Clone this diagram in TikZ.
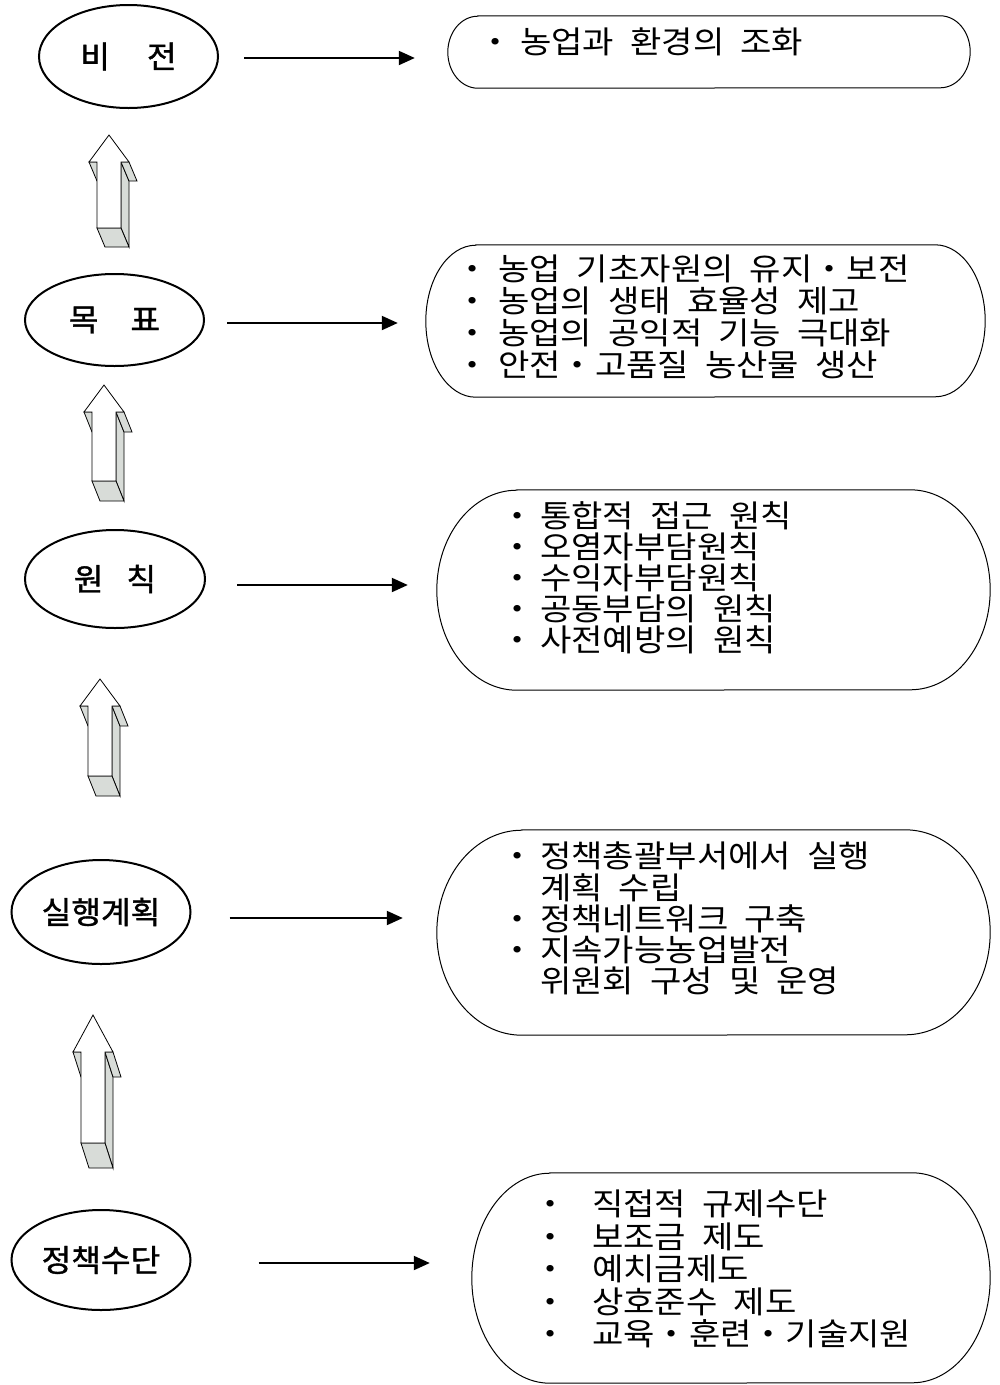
\documentclass[tikz,border=0pt]{standalone}
\usepackage{fontspec}
\newfontfamily\kr{Noto Sans CJK KR}[FakeStretch=1.1]
\newfontfamily\krl{Noto Sans CJK KR}[FakeStretch=1.04,FakeBold=1.2]
\usetikzlibrary{shapes.geometric,arrows.meta,calc}
\definecolor{shadegray}{RGB}{216,220,216}
\newcommand\bul[1]{\makebox[#1][l]{・}}
% cx, tip y, head base y, bottom y, depth dy
\newcommand\threedarrow[5]{%
  \draw[arrline,fill=shadegray] ({#1+12},#3) -- ({#1+20},{#3+#5}) -- ({#1+20},{#4+#5}) -- ({#1+12},#4) -- cycle;
  \draw[arrline,fill=shadegray] ({#1-20},#3) -- ({#1-12},#3) -- ({#1-4},{#3+#5}) -- ({#1-12},{#3+#5}) -- cycle;
  \draw[arrline,fill=shadegray] ({#1+12},#3) -- ({#1+20},#3) -- ({#1+28},{#3+#5}) -- ({#1+20},{#3+#5}) -- cycle;
  \draw[arrline,fill=shadegray] ({#1-12},#4) -- ({#1+12},#4) -- ({#1+20},{#4+#5}) -- ({#1-4},{#4+#5}) -- cycle;
  \draw[arrline,fill=white] (#1,#2) -- ({#1+20},#3) -- ({#1+12},#3) -- ({#1+12},#4) -- ({#1-12},#4) -- ({#1-12},#3) -- ({#1-20},#3) -- cycle;
}
% node name, x radius, y radius (pt)
\newcommand\pillbox[3]{%
  \draw[boxline] ([xshift=#2pt]#1.north west) -- ([xshift=-#2pt]#1.north east)
    arc[start angle=90,end angle=-90,x radius=#2pt,y radius=#3pt]
    -- ([xshift=#2pt]#1.south west)
    arc[start angle=270,end angle=90,x radius=#2pt,y radius=#3pt] -- cycle;
}
\begin{document}
\begin{tikzpicture}[x=1pt,y=-1pt,
  oval/.style={ellipse,draw,line width=2pt,inner sep=0pt,font=\krl\fontsize{31}{32}\selectfont},
  conn/.style={line width=2pt,-{Triangle[length=16pt,width=14pt]}},
  boxline/.style={line width=1pt},
  arrline/.style={line width=0.8pt,line join=miter},
  pill/.style={inner sep=0pt,draw=none},
  btext/.style={anchor=north west,inner sep=0pt,align=left,font={\kr\fontsize{31}{#1}\selectfont\spaceskip=16pt\relax}}]
\useasboundingbox (0,0) rectangle (1000,1385);
\fill[white] (0,0) rectangle (1000,1385);

% ellipses
\node[oval,minimum width=179pt,minimum height=103pt] (e1) at (128.5,56.5) {비\hspace{37pt}전};
\node[oval,minimum width=179pt,minimum height=92pt] (e2) at (114.5,320) {목\hspace{32pt}표};
\node[oval,minimum width=180pt,minimum height=98pt] (e3) at (115,579) {원\hspace{23pt}칙};
\node[oval,minimum width=179pt,minimum height=104pt] (e4) at (101,912) {실행계획};
\node[oval,minimum width=179pt,minimum height=100pt] (e5) at (101,1260) {정책수단};

% pill boxes
\node[pill,minimum width=522pt,minimum height=72pt] (b1) at (709,52) {};
\node[pill,minimum width=559pt,minimum height=152pt] (b2) at (705.5,321) {};
\node[pill,minimum width=553pt,minimum height=200pt] (b3) at (713.5,590) {};
\node[pill,minimum width=553pt,minimum height=205pt] (b4) at (713.5,932.5) {};
\node[pill,minimum width=518pt,minimum height=210pt] (b5) at (731,1278) {};
\pillbox{b1}{30}{36}
\pillbox{b2}{50}{76}
\pillbox{b3}{80}{100}
\pillbox{b4}{85}{102.5}
\pillbox{b5}{78}{105}

% box texts
\node[btext=32] (t1) at (478.5,28) {\bul{41.5pt}농업과 환경의 조화};
\node[btext=32] (t2) at (455.5,255) {\bul{42.5pt}농업 기초자원의 유지・보전\\
\bul{42.5pt}농업의 생태 효율성 제고\\
\bul{42.5pt}농업의 공익적 기능 극대화\\
\bul{42.5pt}안전・고품질 농산물 생산};
\node[btext=31] (t3) at (500.5,501) {\bul{39.5pt}통합적 접근 원칙\\
\bul{39.5pt}오염자부담원칙\\
\bul{39.5pt}수익자부담원칙\\
\bul{39.5pt}공동부담의 원칙\\
\bul{39.5pt}사전예방의 원칙};
\node[btext=31.2] (t4) at (500.5,842) {\bul{39.5pt}정책총괄부서에서 실행\\
\hspace*{39.5pt}계획 수립\\
\bul{39.5pt}정책네트워크 구축\\
\bul{39.5pt}지속가능농업발전\\
\hspace*{39.5pt}위원회 구성 및 운영};
\node[btext=32.5] (t5) at (533.5,1190) {\bul{58.5pt}직접적 규제수단\\
\bul{58.5pt}보조금 제도\\
\bul{58.5pt}예치금제도\\
\bul{58.5pt}상호준수 제도\\
\bul{58.5pt}교육・훈련・기술지원};

% connectors
\draw[conn,shorten <=25pt,shorten >=33pt] ([yshift=-1.5pt]e1.east) -- ([yshift=-1.5pt]e1.east -| b1.west);
\draw[conn,shorten <=22pt,shorten >=28pt] ([yshift=-3pt]e2.east) -- ([yshift=-3pt]e2.east -| b2.west);
\draw[conn,shorten <=31pt,shorten >=29pt] ([yshift=-6pt]e3.east) -- ([yshift=-6pt]e3.east -| b3.west);
\draw[conn,shorten <=38pt,shorten >=34pt] ([yshift=-6pt]e4.east) -- ([yshift=-6pt]e4.east -| b4.west);
\draw[conn,shorten <=67pt,shorten >=42pt] ([yshift=-3pt]e5.east) -- ([yshift=-3pt]e5.east -| b5.west);

% 3D up arrows
\threedarrow{109}{135}{162}{228}{19}
\threedarrow{104}{385}{412}{481}{20}
\threedarrow{100}{679}{706}{776}{20}
\threedarrow{93}{1015}{1052}{1143}{25}
\end{tikzpicture}
\end{document}
